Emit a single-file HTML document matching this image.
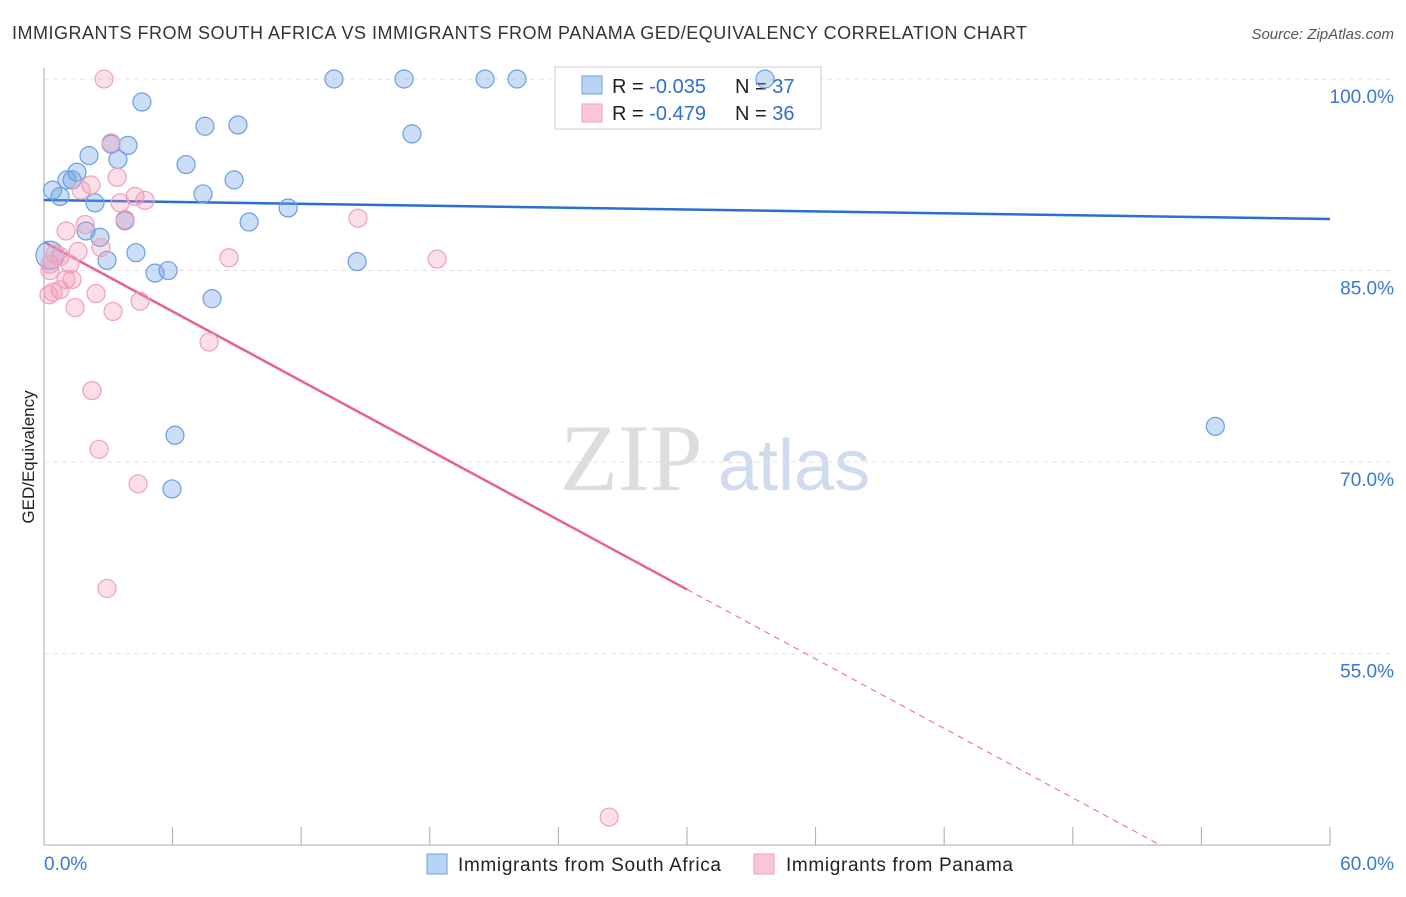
<!DOCTYPE html>
<html><head><meta charset="utf-8"><style>
body{margin:0;background:#fff;font-family:"Liberation Sans",sans-serif;}
</style></head><body>
<svg id="chart" width="1406" height="892" xmlns="http://www.w3.org/2000/svg">
<text x="12" y="39" font-size="18" fill="#333" textLength="1015">IMMIGRANTS FROM SOUTH AFRICA VS IMMIGRANTS FROM PANAMA GED/EQUIVALENCY CORRELATION CHART</text>
<text x="1394" y="39" font-size="15" fill="#555" font-style="italic" text-anchor="end">Source: ZipAtlas.com</text>
<text x="560" y="490" font-size="95" fill="#ddd" font-family="Liberation Serif">ZIP</text>
<text x="718" y="490" font-size="72" fill="#cfdcf0">atlas</text>
<line x1="44" y1="68" x2="44" y2="845" stroke="#aaa"/>
<line x1="44" y1="845" x2="1330" y2="845" stroke="#aaa"/>
<text transform="translate(34,457) rotate(-90)" font-size="17" fill="#222" text-anchor="middle">GED/Equivalency</text>
<g id="grid"></g><g id="ticks"></g><g id="lines"></g>
<g>
<rect x="555" y="67" width="266" height="62" fill="#fff" stroke="#ccc"/>
<rect x="582" y="76" width="20" height="18" fill="#b9d3f5" stroke="#6aa0e0"/>
<rect x="582" y="104" width="20" height="18" fill="#f9c6d6" stroke="#f0a0bb"/>
<text x="612" y="93" font-size="20" fill="#222">R = <tspan fill="#2f6fd0">-0.035</tspan><tspan x="735">N = </tspan><tspan fill="#2f6fd0">37</tspan></text>
<text x="612" y="120" font-size="20" fill="#222">R = <tspan fill="#2f6fd0">-0.479</tspan><tspan x="735">N = </tspan><tspan fill="#2f6fd0">36</tspan></text>
</g>
<g id="pts"></g>
<g>
<rect x="427" y="854" width="20" height="20" fill="#b9d3f5" stroke="#6aa0e0"/>
<text x="458" y="871" font-size="19" fill="#222" textLength="263">Immigrants from South Africa</text>
<rect x="754" y="854" width="20" height="20" fill="#f9c6d6" stroke="#f0a0bb"/>
<text x="786" y="871" font-size="19" fill="#222" textLength="227">Immigrants from Panama</text>
</g>
<text x="44" y="870" font-size="19" fill="#3a78d4">0.0%</text>
<text x="1394" y="870" font-size="19" fill="#3a78d4" text-anchor="end">60.0%</text>
</svg>
<script>
const yTicks=[100,85,70,55];
const xTickVals=[0,6,12,18,24,30,36,42,48,54,60];
const blueX=[0.4,0.75,1.07,1.31,1.54,2.1,2.38,2.61,2.94,3.13,3.45,3.78,3.92,4.29,4.57,5.18,5.79,5.97,6.11,6.63,7.42,7.51,7.84,8.87,9.05,9.57,11.39,13.53,14.61,16.8,17.17,20.58,22.07,33.64,54.65,0.28,1.96];
const blueY=[91.3,90.8,92.1,92.1,92.7,94.0,90.3,87.6,85.8,94.9,93.7,88.9,94.8,86.4,98.2,84.8,85.0,67.9,72.1,93.3,91.0,96.3,82.8,92.1,96.4,88.8,89.9,100,85.7,100,95.7,100,100,100,72.8,86.2,88.1];
const pinkX=[2.8,3.13,3.41,2.19,1.73,4.25,4.71,3.55,3.78,1.92,1.03,2.66,1.59,0.51,1.21,0.28,1.03,1.31,0.75,0.42,0.23,2.43,4.48,1.45,3.22,8.63,7.7,14.65,18.34,2.24,2.57,4.39,2.94,26.37,0.75,0.28];
const pinkY=[100,95.0,92.3,91.7,91.3,90.8,90.5,90.3,89.0,88.6,88.1,86.8,86.5,86.3,85.5,85.5,84.3,84.3,83.5,83.3,83.1,83.2,82.6,82.1,81.8,86.0,79.4,89.1,85.9,75.6,71.0,68.3,60.1,42.2,86.1,85.0];
const blueTrend=[90.52,89.04];
const pinkTrend=[87.24,-0.907];
const NS="http://www.w3.org/2000/svg";
const X=v=>44+v*21.433, Y=v=>79+(100-v)*12.77;
function mk(t,a,p){const e=document.createElementNS(NS,t);for(const k in a)e.setAttribute(k,a[k]);p.appendChild(e);return e;}
const grid=document.getElementById('grid'),ticks=document.getElementById('ticks'),lines=document.getElementById('lines'),pts=document.getElementById('pts');
yTicks.forEach(v=>{
 const l=mk('line',{x1:44,x2:1394,y1:Y(v),y2:Y(v),stroke:'#e2e2e2','stroke-dasharray':'5,4'},grid);
 
 
 const t=mk('text',{x:1394,y:Y(v)+24,'font-size':19,fill:'#3a78d4','text-anchor':'end'},ticks);
 t.textContent=v.toFixed(1)+'%';
 
 
});
xTickVals.forEach(v=>{
 const l=mk('line',{x1:X(v),x2:X(v),y1:827,y2:845,stroke:'#aaa'},ticks);
 
 
});
const bl=mk('line',{x1:X(0),y1:Y(blueTrend[0]),x2:X(60),y2:Y(blueTrend[1]),stroke:'#2a6fd4','stroke-width':2.5},lines);


const pf=x=>pinkTrend[0]+pinkTrend[1]*x;
const pl=mk('line',{x1:X(0),y1:Y(pf(0)),x2:X(30),y2:Y(pf(30)),stroke:'#e8628e','stroke-width':2.5},lines);


const xe=(pinkTrend[0]-40)/(-pinkTrend[1]);
const pd=mk('line',{x1:X(30),y1:Y(pf(30)),x2:X(xe),y2:Y(40),stroke:'#e8628e','stroke-width':1,'stroke-dasharray':'6,5'},lines);


blueX.forEach((x,i)=>{
 const c=mk('circle',{cx:X(x),cy:Y(blueY[i]),r:i==35?14:9,fill:'rgba(110,160,230,0.35)',stroke:'#6a9fe0','stroke-width':1.2},pts);
 
 
});
pinkX.forEach((x,i)=>{
 const c=mk('circle',{cx:X(x),cy:Y(pinkY[i]),r:9,fill:'rgba(240,150,180,0.3)',stroke:'#f0a0bb','stroke-width':1.2},pts);
 
 
});
</script>
</body></html>
